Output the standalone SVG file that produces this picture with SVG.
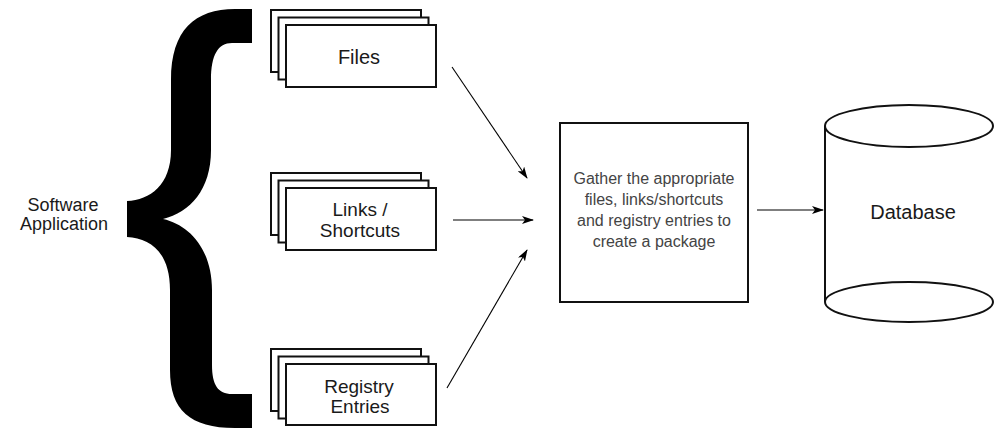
<svg xmlns="http://www.w3.org/2000/svg" width="995" height="430" viewBox="0 0 995 430">
<style>
text{font-family:"Liberation Sans",Arial,sans-serif;fill:#1a1a1a;text-anchor:middle}
.lbl{font-size:20px}
.lbl2{font-size:19px}
.card{fill:#fff;stroke:#111;stroke-width:2}
.gather{font-size:16px;fill:#444}
.conn{stroke:#000;stroke-width:1.1;fill:none;marker-end:url(#ah)}
.db{fill:none;stroke:#111;stroke-width:2}
</style>
<defs>
<marker id="ah" markerUnits="userSpaceOnUse" markerWidth="12" markerHeight="8" refX="11" refY="4" orient="auto">
<path d="M0,0 L12,4 L0,8 L3,4 Z" fill="#000"/>
</marker>
</defs>
<rect width="995" height="430" fill="#fff"/>
<g id="software-application">
<path d="M252,9 L235,9 C195,9 171,30 171,80 L171,150 C171,185 150,200 127,201 L127,237 C150,238 170,252 170,290 L170,370 C170,410 190,428 235,428 L252,428 L252,394 L232,394 C218,394 212,385 212,365 L212,290 C212,250 190,225 163,219 C190,212 211,190 211,150 L211,80 C211,55 218,43 232,43 L252,43 Z" fill="#000"/>
<text x="63" y="211" style="font-size:18px">Software</text>
<text x="64" y="230" style="font-size:18px">Application</text>
</g>
<g id="files">
<rect class="card" x="271" y="10" width="150" height="62"/>
<rect class="card" x="278.5" y="17.5" width="150" height="62"/>
<rect class="card" x="286" y="25" width="150" height="62"/>
<text class="lbl" x="359" y="64">Files</text>
</g>
<g id="links">
<rect class="card" x="271" y="173" width="150" height="62"/>
<rect class="card" x="278.5" y="180.5" width="150" height="62"/>
<rect class="card" x="286" y="188" width="150" height="62"/>
<text class="lbl2" x="360" y="216">Links /</text>
<text class="lbl2" x="360" y="237">Shortcuts</text>
</g>
<g id="registry">
<rect class="card" x="271" y="349" width="150" height="62"/>
<rect class="card" x="278.5" y="356.5" width="150" height="62"/>
<rect class="card" x="286" y="364" width="150" height="61"/>
<text class="lbl2" x="359" y="393">Registry</text>
<text class="lbl2" x="360" y="413">Entries</text>
</g>
<g id="gather">
<rect class="card" x="560" y="123" width="188" height="179"/>
<text class="gather" x="654" y="184">Gather the appropriate</text>
<text class="gather" x="654" y="205">files, links/shortcuts</text>
<text class="gather" x="654" y="226">and registry entries to</text>
<text class="gather" x="654" y="247">create a package</text>
</g>
<g id="database">
<line class="db" x1="825" y1="126" x2="825" y2="302"/>
<ellipse class="db" cx="909" cy="126" rx="84" ry="21"/>
<ellipse class="db" cx="909" cy="302" rx="84" ry="20"/>
<text class="lbl" x="913" y="219">Database</text>
</g>
<g id="connectors">
<line class="conn" x1="452" y1="67" x2="527" y2="178"/>
<line class="conn" x1="453" y1="220" x2="533" y2="220"/>
<line class="conn" x1="447" y1="388" x2="527" y2="250"/>
<line class="conn" x1="757" y1="210" x2="823" y2="210"/>
</g>
</svg>
